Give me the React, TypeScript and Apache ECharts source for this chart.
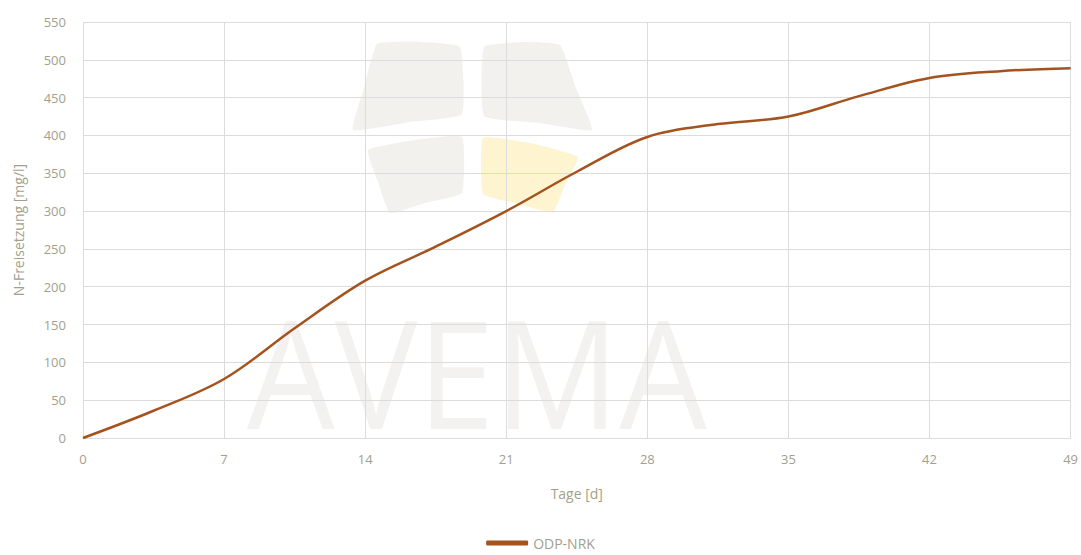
import React, { useEffect, useRef } from "react";
import * as echarts from "echarts";

const days = [0, 3.5, 7, 10.5, 14, 17.5, 21, 24.5, 28, 31.5, 35, 38.5, 42, 45.5, 49];
const nRelease = [0, 36, 78, 145, 208, 253, 300, 352, 398, 415, 425, 452, 476, 485, 489];
const seriesName = "ODP-NRK";
const xTitle = "Tage [d]";
const yTitle = "N-Freisetzung [mg/l]";
const watermarkText = "AVEMA";

const textColor = "#A39F8C";
const lineColor = "#A4531F";
const gridColor = "#DCDCDC";
const fontFamily = "'Open Sans', 'Noto Sans', sans-serif";

export default function App() {
  const ref = useRef<HTMLDivElement>(null);
  useEffect(() => {
    if (!ref.current) return;
    const chart = echarts.init(ref.current, null, { renderer: "svg" });
    const grey = "rgba(205,198,188,0.25)";
    const yellow = "rgba(250,208,60,0.24)";
    chart.setOption({
      animation: false,
      backgroundColor: "#ffffff",
      textStyle: { fontFamily },
      grid: { left: 83, right: 8, top: 22, bottom: 117 },
      legend: {
        bottom: 0,
        left: "center",
        icon: "roundRect",
        itemWidth: 42,
        itemHeight: 5,
        textStyle: { color: textColor, fontSize: 14, fontFamily },
        data: [{ name: seriesName, icon: "roundRect" }],
      },
      xAxis: {
        type: "value",
        min: 0,
        max: 49,
        interval: 7,
        name: xTitle,
        nameLocation: "middle",
        nameGap: 48,
        nameTextStyle: { color: textColor, fontSize: 14, fontFamily },
        axisLine: { show: true, lineStyle: { color: gridColor } },
        axisTick: { show: false },
        axisLabel: { color: textColor, fontSize: 13, margin: 14, fontFamily },
        splitLine: { show: true, lineStyle: { color: gridColor } },
      },
      yAxis: {
        type: "value",
        min: 0,
        max: 550,
        interval: 50,
        name: yTitle,
        nameLocation: "middle",
        nameGap: 58,
        nameTextStyle: { color: textColor, fontSize: 14, fontFamily },
        axisLine: { show: false },
        axisTick: { show: false },
        axisLabel: { color: textColor, fontSize: 13, margin: 17, fontFamily },
        splitLine: { show: true, lineStyle: { color: gridColor } },
      },
      series: [
        {
          name: seriesName,
          type: "line",
          data: days.map((d, i) => [d, nRelease[i]]),
          smooth: 0.35,
          showSymbol: false,
          lineStyle: { color: lineColor, width: 2.5 },
          itemStyle: { color: lineColor },
          z: 2,
        },
      ],
      graphic: [
        {
          type: "group",
          z: 10,
          silent: true,
          children: [
            {
              type: "polygon",
              shape: {
                smooth: 0.12,
                points: [[377, 44], [420, 42], [460, 47], [462, 114], [410, 122], [353, 130], [364, 88]],
              },
              style: { fill: grey },
            },
            {
              type: "polygon",
              shape: {
                smooth: 0.12,
                points: [[484, 47], [525, 42], [560, 45], [576, 88], [592, 130], [540, 123], [484, 116]],
              },
              style: { fill: grey },
            },
            {
              type: "polygon",
              shape: {
                smooth: 0.12,
                points: [[368, 150], [415, 140], [462, 137], [462, 193], [425, 203], [390, 213], [378, 182]],
              },
              style: { fill: grey },
            },
            {
              type: "polygon",
              shape: {
                smooth: 0.12,
                points: [[483, 138], [530, 143], [578, 157], [565, 185], [553, 212], [515, 203], [483, 194]],
              },
              style: { fill: yellow },
            },
            {
              type: "text",
              x: 247,
              y: 446,
              scaleX: 0.925,
              style: {
                text: watermarkText,
                fontSize: 150,
                fontFamily: "'Open Sans', sans-serif",
                fontWeight: "normal",
                fill: "rgba(200,190,180,0.2)",
                textVerticalAlign: "bottom",
              },
            },
          ],
        },
      ],
    });
    return () => chart.dispose();
  }, []);
  return (
    <div
      ref={ref}
      style={{ position: "fixed", left: 0, top: 0, width: 1081, height: 555 }}
    />
  );
}
